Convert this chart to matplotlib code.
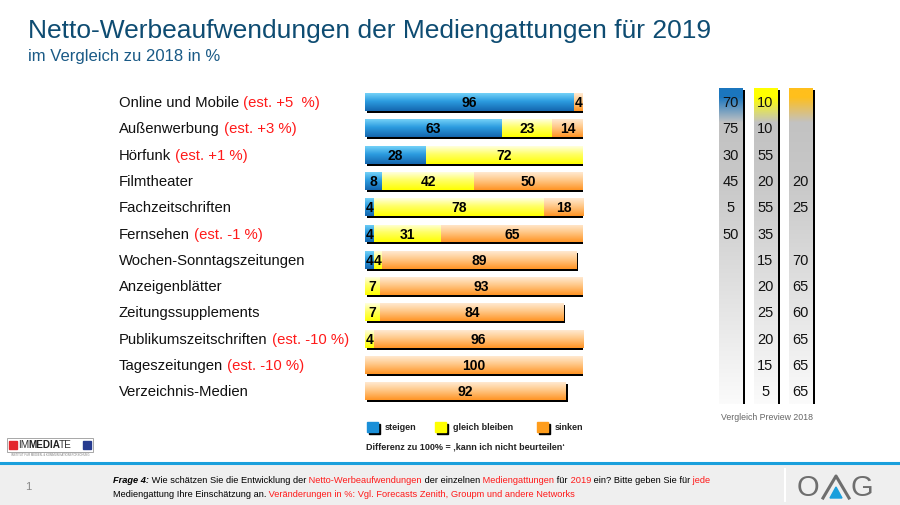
import matplotlib
matplotlib.use("Agg")
import matplotlib.pyplot as plt
import numpy as np
from matplotlib.lines import Line2D
from matplotlib.patches import Polygon, Rectangle
from matplotlib.text import Annotation
from matplotlib.transforms import ScaledTranslation, blended_transform_factory

plt.rcParams["font.family"] = ["Liberation Sans", "DejaVu Sans"]

W, H, DPI = 900, 506, 100

categories = [
    "Online und Mobile", "Außenwerbung", "Hörfunk", "Filmtheater",
    "Fachzeitschriften", "Fernsehen", "Wochen-Sonntagszeitungen",
    "Anzeigenblätter", "Zeitungssupplements", "Publikumszeitschriften",
    "Tageszeitungen", "Verzeichnis-Medien",
]
estimates = ["(est. +5  %)", "(est. +3 %)", "(est. +1 %)", "", "", "(est. -1 %)",
             "", "", "", "(est. -10 %)", "(est. -10 %)", ""]
steigen = [96, 63, 28, 8, 4, 4, 4, 0, 0, 0, 0, 0]
gleich = [0, 23, 72, 42, 78, 31, 4, 7, 7, 4, 0, 0]
sinken = [4, 14, 0, 50, 18, 65, 89, 93, 84, 96, 100, 92]
series_names = ["steigen", "gleich bleiben", "sinken"]

# Vergleich Preview 2018
prev_steigen = [70, 75, 30, 45, 5, 50, None, None, None, None, None, None]
prev_gleich = [10, 10, 55, 20, 55, 35, 15, 20, 25, 20, 15, 5]
prev_sinken = [None, None, None, 20, 25, None, 70, 65, 60, 65, 65, 65]

RED = "#ff1a1a"
BAR_STOPS = [
    ["#74d2f8", "#2c9ce0", "#1466ae"],
    ["#ffffe0", "#ffff66", "#ffff00"],
    ["#ffead2", "#ffc888", "#ff9424"],
]
LEGEND_COLORS = ["#1a8fd8", "#ffff00", "#ff9d1c"]
COL_TOP = ["#1b76be", "#ffff00", "#ffbf1c"]


def fx(px):
    return px / W


def fy(py):
    return 1 - py / H


def gradient(stops, pos=None, n=128):
    rgb = np.array([matplotlib.colors.to_rgb(c) for c in stops])
    if pos is None:
        pos = np.linspace(0, 1, len(stops))
    t = np.linspace(0, 1, n)
    out = np.stack([np.interp(t, pos, rgb[:, k]) for k in range(3)], axis=-1)
    return out[:, None, :]


def chain(first, parts, size, zorder=5, nudge=0.0):
    """Place coloured text segments one after another on a line."""
    prev = first
    for txt, color, weight in parts:
        ann = Annotation(txt, xy=(1, 0), xycoords=prev, xytext=(nudge, 0),
                         textcoords="offset points", va="bottom", ha="left",
                         fontsize=size, color=color, fontweight=weight,
                         annotation_clip=False)
        ann.set_zorder(zorder)
        fig.add_artist(ann)
        prev = ann
    return prev


fig = plt.figure(figsize=(W / DPI, H / DPI), dpi=DPI)
fig.patch.set_facecolor("white")

n = len(categories)
rows = np.arange(n)
ax_bottom = fy(405.4)
ax_height = 315.5 / H

ax = fig.add_axes([fx(365), ax_bottom, 218 / W, ax_height])
ax.set_xlim(0, 100)
ax.set_ylim(n - 0.5, -0.5)
ax.axis("off")

bar_h = 0.68
shadow = ax.transData + ScaledTranslation(2 / DPI, -2 / DPI, fig.dpi_scale_trans)
totals = np.sum([steigen, gleich, sinken], axis=0)
ax.barh(rows, totals, height=bar_h, color="black", linewidth=0, transform=shadow, zorder=1)

left = np.zeros(n)
for vals, stops in zip([steigen, gleich, sinken], BAR_STOPS):
    bars = ax.barh(rows, vals, left=left, height=bar_h, color=stops[1], linewidth=0, zorder=2)
    grad = gradient(stops, pos=[0, 0.45, 1])
    for bar, v in zip(bars, vals):
        if v == 0:
            continue
        x0, y0 = bar.get_x(), bar.get_y()
        w, h = bar.get_width(), bar.get_height()
        im = ax.imshow(grad, extent=(x0, x0 + w, y0 + h, y0), origin="upper",
                       aspect="auto", interpolation="bilinear", zorder=3)
        im.set_clip_path(bar)
        ax.text(x0 + w / 2, y0 + h / 2, str(v), ha="center", va="center",
                fontsize=10, fontweight="bold", color="black", zorder=5)
    left += np.array(vals)
ax.set_xlim(0, 100)
ax.set_ylim(n - 0.5, -0.5)

# category labels with red estimates
lab_tr = blended_transform_factory(fig.transFigure, ax.transData)
for i, (cat, est) in enumerate(zip(categories, estimates)):
    t = ax.text(fx(119), i, cat, transform=lab_tr, ha="left", va="center",
                fontsize=10.7, color="#111111")
    if est:
        ax.annotate(" " + est, xy=(1, 0), xycoords=t, ha="left", va="bottom",
                    fontsize=10.7, color=RED, annotation_clip=False)

# comparison columns 2018
ax2 = fig.add_axes([fx(713), ax_bottom, 105 / W, ax_height])
ax2.set_xlim(-0.5, 2.5)
ax2.set_ylim(n - 0.5, -0.5)
ax2.axis("off")
col_w = 24 / 35
shadow2 = ax2.transData + ScaledTranslation(2 / DPI, -2 / DPI, fig.dpi_scale_trans)
ax2.bar(rows[:3], [n + 0.05] * 3, bottom=-0.55, width=col_w, color="black",
        linewidth=0, transform=shadow2, zorder=1)
cols = ax2.bar(rows[:3], [n + 0.05] * 3, bottom=-0.55, width=col_w, color="#d0d0d0",
               linewidth=0, zorder=2)
for bar, top, vals in zip(cols, COL_TOP, [prev_steigen, prev_gleich, prev_sinken]):
    x0, y0 = bar.get_x(), bar.get_y()
    w, h = bar.get_width(), bar.get_height()
    grad = gradient([top, top, "#c2c2c2", "#c8c8c8", "#fbfbfb"], pos=[0, 0.03, 0.11, 0.3, 1], n=256)
    im = ax2.imshow(grad, extent=(x0, x0 + w, y0 + h, y0), origin="upper",
                    aspect="auto", interpolation="bilinear", zorder=3)
    im.set_clip_path(bar)
    for i, v in enumerate(vals):
        if v is not None:
            ax2.text(x0 + w / 2, i, str(v), ha="center", va="center",
                     fontsize=10.5, color="#111111", zorder=5)
ax2.set_xlim(-0.5, 2.5)
ax2.set_ylim(n - 0.5, -0.5)
fig.text(fx(767), fy(418), "Vergleich Preview 2018", ha="center", va="center",
         fontsize=6.3, color="#666666")

# title
fig.text(fx(28), fy(31), "Netto-Werbeaufwendungen der Mediengattungen für 2019",
         fontsize=19, color="#0e4c72", va="center", ha="left")
fig.text(fx(28), fy(57), "im Vergleich zu 2018 in %", fontsize=12,
         color="#1a5a86", va="center", ha="left")

# legend
for x, txt, color in zip([367, 435, 537], series_names, LEGEND_COLORS):
    fig.add_artist(Rectangle((fx(x + 2), fy(435)), 11 / W, 10 / H, color="black",
                             transform=fig.transFigure, zorder=1))
    fig.add_artist(Rectangle((fx(x), fy(433)), 11 / W, 10 / H, color=color,
                             transform=fig.transFigure, zorder=2))
    fig.text(fx(x + 18), fy(428), txt, fontsize=6.5, fontweight="bold",
             va="center", ha="left", color="#222222")
fig.text(fx(366), fy(447), "Differenz zu 100% = \u201akann ich nicht beurteilen\u2018",
         fontsize=6.5, fontweight="bold", va="center", ha="left", color="#222222")

# footer
fig.add_artist(Rectangle((0, 0), 1, fy(465), color="#efefef", transform=fig.transFigure, zorder=0))
fig.add_artist(Line2D([0, 1], [fy(463.5)] * 2, color="#1a9fdc", lw=2.2, transform=fig.transFigure))
fig.add_artist(Line2D([fx(785)] * 2, [fy(470), fy(502)], color="white", lw=1.5, transform=fig.transFigure))
fig.text(fx(25), fy(487), "1", fontsize=8, color="#888888", va="center")

size_q = 6.7
t1 = fig.text(fx(113), fy(485), "Frage 4:", fontsize=size_q, fontweight="bold",
              fontstyle="italic", va="bottom", ha="left", color="black", zorder=5)
chain(t1, [(" Wie schätzen Sie die Entwicklung der", "black", "normal"),
           (" Netto-Werbeaufwendungen", RED, "normal"),
           (" der einzelnen", "black", "normal"),
           (" Mediengattungen", RED, "normal"),
           (" für", "black", "normal"),
           (" 2019", RED, "normal"),
           (" ein? Bitte geben Sie für", "black", "normal"),
           (" jede", RED, "normal")], size_q)
t2 = fig.text(fx(113), fy(499), "Mediengattung Ihre Einschätzung an.", fontsize=size_q,
              va="bottom", ha="left", color="black", zorder=5)
chain(t2, [(" Veränderungen in %: Vgl. Forecasts Zenith, Groupm und andere Networks", RED, "normal")], size_q)

# IMMEDIATE logo
fig.add_artist(Rectangle((fx(7), fy(453)), 86 / W, 14 / H, facecolor="white",
                         edgecolor="#999999", lw=0.6, transform=fig.transFigure, zorder=3))
fig.add_artist(Rectangle((fx(9), fy(450)), 8 / W, 8 / H, color="#e3262c",
                         transform=fig.transFigure, zorder=4))
fig.add_artist(Rectangle((fx(83), fy(450)), 8 / W, 8 / H, color="#263b8f",
                         transform=fig.transFigure, zorder=4))
lt = fig.text(fx(18.5), fy(450.5), "IM", fontsize=7.2, color="#333333", va="bottom",
              ha="left", zorder=5)
chain(lt, [("MEDIA", "#222222", "bold"), ("TE", "#333333", "normal")], 7.2, nudge=-1.0)
fig.text(fx(50), fy(455.5), "INSTITUT FÜR MEDIEN- & KOMMUNIKATIONSFORSCHUNG", fontsize=2,
         color="#777777", ha="center", va="center", zorder=5)

# OMG logo
fig.text(fx(808), fy(488), "O", fontsize=21, color="#6e6e6e", ha="center", va="center",
         fontweight="light")
fig.text(fx(862), fy(488), "G", fontsize=21, color="#6e6e6e", ha="center", va="center",
         fontweight="light")
fig.add_artist(Line2D([fx(823), fx(836), fx(849)], [fy(499), fy(477), fy(499)],
                      color="#6e6e6e", lw=2.2, transform=fig.transFigure))
fig.add_artist(Polygon([(fx(830), fy(499)), (fx(836), fy(488)), (fx(842), fy(499))],
                       closed=True, color="#1a9fdc", transform=fig.transFigure))

fig.savefig("out.png", dpi=DPI, facecolor="white")
